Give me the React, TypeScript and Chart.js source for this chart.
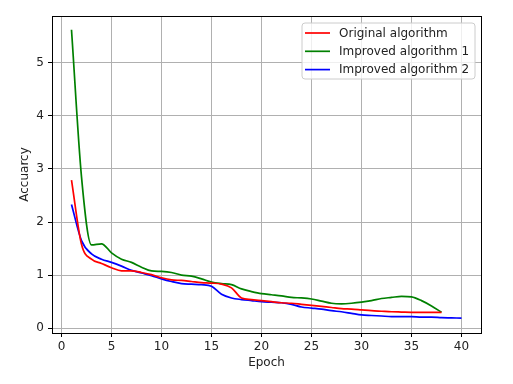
import React, { useEffect, useRef } from "react";
import { Chart, registerables } from "chart.js";

Chart.register(...registerables);

const seriesNames = ["Original algorithm", "Improved algorithm 1", "Improved algorithm 2"];
const seriesColors = ["#ff0000", "#008000", "#0000ff"];

const epochsOriginal = Array.from({ length: 38 }, (_, i) => i + 1);
const epochsImproved1 = Array.from({ length: 38 }, (_, i) => i + 1);
const epochsImproved2 = Array.from({ length: 40 }, (_, i) => i + 1);

const original = [
  2.79, 1.58, 1.3, 1.22, 1.14, 1.08, 1.08, 1.05, 1.01, 0.95,
  0.91, 0.9, 0.88, 0.86, 0.85, 0.83, 0.76, 0.57, 0.54, 0.52,
  0.5, 0.48, 0.47, 0.45, 0.43, 0.41, 0.39, 0.37, 0.36, 0.345,
  0.33, 0.32, 0.31, 0.305, 0.3, 0.3, 0.3, 0.3,
];
const improved1 = [
  5.62, 2.85, 1.57, 1.59, 1.42, 1.3, 1.24, 1.15, 1.08, 1.07,
  1.05, 1.0, 0.98, 0.93, 0.87, 0.84, 0.82, 0.74, 0.69, 0.65,
  0.63, 0.61, 0.58, 0.57, 0.55, 0.51, 0.47, 0.46, 0.47, 0.49,
  0.52, 0.56, 0.58, 0.6, 0.59, 0.52, 0.42, 0.3,
];
const improved2 = [
  2.33, 1.65, 1.4, 1.3, 1.24, 1.17, 1.09, 1.04, 0.99, 0.93,
  0.88, 0.84, 0.83, 0.82, 0.79, 0.64, 0.57, 0.54, 0.52, 0.5,
  0.49, 0.48, 0.45, 0.4, 0.38, 0.36, 0.33, 0.31, 0.28, 0.25,
  0.24, 0.23, 0.22, 0.22, 0.22, 0.21, 0.21, 0.2, 0.195, 0.19,
];

const xTitle = "Epoch";
const yTitle = "Accuarcy";

const FONT = "'DejaVu Sans', sans-serif";
const FS = 12;

const frameAndLegend = {
  id: "frameAndLegend",
  afterDraw(chart: any) {
    const { ctx, chartArea } = chart;
    ctx.save();
    ctx.strokeStyle = "#000";
    ctx.lineWidth = 1;
    ctx.strokeRect(
      Math.round(chartArea.left) + 0.5,
      Math.round(chartArea.top) + 0.5,
      Math.round(chartArea.right - chartArea.left),
      Math.round(chartArea.bottom - chartArea.top)
    );
    const bx = 302, by = 23, bw = 173, bh = 56, r = 3;
    ctx.beginPath();
    ctx.moveTo(bx + r, by);
    ctx.lineTo(bx + bw - r, by);
    ctx.quadraticCurveTo(bx + bw, by, bx + bw, by + r);
    ctx.lineTo(bx + bw, by + bh - r);
    ctx.quadraticCurveTo(bx + bw, by + bh, bx + bw - r, by + bh);
    ctx.lineTo(bx + r, by + bh);
    ctx.quadraticCurveTo(bx, by + bh, bx, by + bh - r);
    ctx.lineTo(bx, by + r);
    ctx.quadraticCurveTo(bx, by, bx + r, by);
    ctx.closePath();
    ctx.fillStyle = "rgba(255,255,255,0.8)";
    ctx.fill();
    ctx.strokeStyle = "#cccccc";
    ctx.lineWidth = 1;
    ctx.stroke();
    ctx.font = `${FS}px ${FONT}`;
    ctx.textBaseline = "middle";
    ctx.textAlign = "left";
    chart.data.datasets.forEach((ds: any, i: number) => {
      const y = 33 + i * 18.3;
      ctx.strokeStyle = ds.borderColor;
      ctx.lineWidth = 1.7;
      ctx.beginPath();
      ctx.moveTo(305, y);
      ctx.lineTo(330, y);
      ctx.stroke();
      ctx.fillStyle = "#222";
      ctx.fillText(ds.label, 339, y + 0.5);
    });
    ctx.restore();
  },
};

export default function App() {
  const canvasRef = useRef<HTMLCanvasElement | null>(null);

  useEffect(() => {
    document.body.style.margin = "0";
    const canvas = canvasRef.current;
    if (!canvas) return;
    const mk = (xs: number[], ys: number[]) => xs.map((x, i) => ({ x, y: ys[i] }));
    const data = [mk(epochsOriginal, original), mk(epochsImproved1, improved1), mk(epochsImproved2, improved2)];
    const chart = new Chart(canvas, {
      type: "line",
      data: {
        datasets: data.map((d, i) => ({
          label: seriesNames[i],
          data: d,
          borderColor: seriesColors[i],
          backgroundColor: seriesColors[i],
          borderWidth: 1.7,
          pointRadius: 0,
          cubicInterpolationMode: "monotone" as const,
          fill: false,
        })),
      },
      options: {
        animation: false,
        responsive: false,
        maintainAspectRatio: false,
        layout: { padding: { left: 0, top: 16, right: 32, bottom: 0 } },
        plugins: { legend: { display: false }, tooltip: { enabled: false } },
        scales: {
          x: {
            type: "linear",
            min: -0.95,
            max: 41.95,
            afterFit: (s: any) => { s.height = 51; },
            ticks: {
              stepSize: 5,
              includeBounds: false,
              autoSkip: false,
              maxRotation: 0,
              padding: 3,
              color: "#222",
              font: { family: FONT, size: FS },
            },
            grid: { color: "#b0b0b0", lineWidth: 1, tickLength: 4, tickColor: "#000", drawTicks: true },
            border: { display: true, color: "#000", width: 1 },
            title: {
              display: true,
              text: xTitle,
              color: "#222",
              font: { family: FONT, size: FS },
              padding: { top: 0, bottom: 14 },
            },
          },
          y: {
            type: "linear",
            min: -0.09,
            max: 5.88,
            afterFit: (s: any) => { s.width = 52; },
            ticks: {
              stepSize: 1,
              includeBounds: false,
              padding: 4,
              color: "#222",
              font: { family: FONT, size: FS },
            },
            grid: { color: "#b0b0b0", lineWidth: 1, tickLength: 4, tickColor: "#000", drawTicks: true },
            border: { display: true, color: "#000", width: 1 },
            title: {
              display: true,
              text: yTitle,
              color: "#222",
              font: { family: FONT, size: FS },
              padding: { top: 17.5, bottom: 0 },
            },
          },
        },
      },
      plugins: [frameAndLegend],
    });
    return () => chart.destroy();
  }, []);

  return (
    <div style={{ width: 513, height: 384, background: "#fff" }}>
      <canvas ref={canvasRef} width={513} height={384} style={{ display: "block", width: 513, height: 384 }} />
    </div>
  );
}
